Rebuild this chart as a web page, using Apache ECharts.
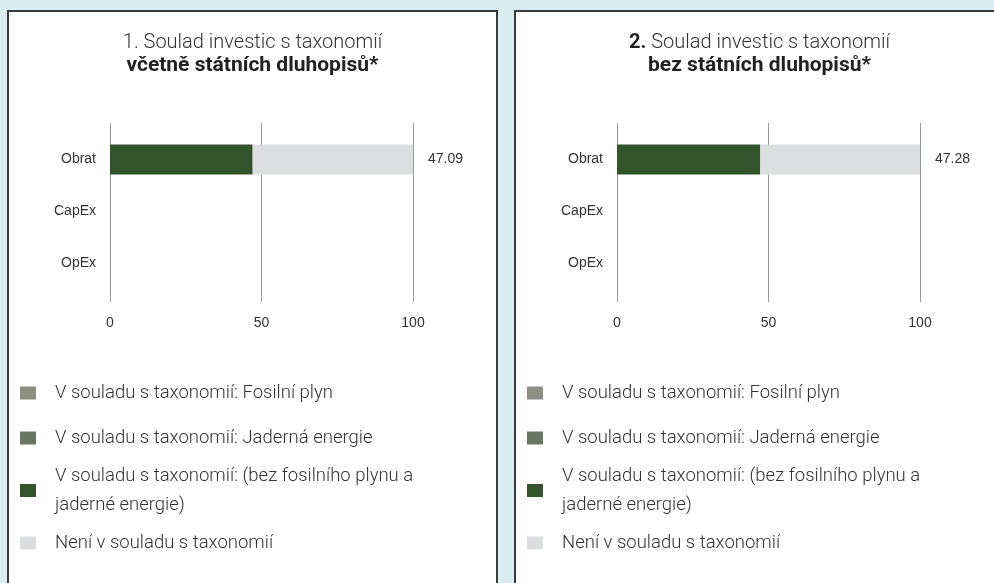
<!DOCTYPE html>
<html>
<head>
<meta charset="utf-8">
<script src="https://cdn.jsdelivr.net/npm/echarts@6/dist/echarts.min.js"></script>
<style>
    html, body {
        margin: 0;
        padding: 0;
        width: 994px;
        height: 583px;
        overflow: hidden;
        background: #daedf3;
    }
    .box {
        position: absolute;
        top: 10px;
        height: 620px;
        border: 2px solid #3a3a3a;
        background: #ffffff;
    }
    #box_1 {
        left: 7px;
        width: 487px;
    }
    #box_2 {
        left: 514px;
        width: 487px;
    }
    .chart {
        width: 100%;
        height: 100%;
    }
</style>
</head>
<body>
    <div class="box" id="box_1"><div class="chart" id="chart_1"></div></div>
    <div class="box" id="box_2"><div class="chart" id="chart_2"></div></div>
<script>
const categories = ['Obrat', 'CapEx', 'OpEx']
const xTicks = [0, 50, 100]
const seriesNames = [
    'V souladu s taxonomií: Fosilní plyn',
    'V souladu s taxonomií: Jaderná energie',
    'V souladu s taxonomií: (bez fosilního plynu a jaderné energie)',
    'Není v souladu s taxonomií'
]
const seriesColors = ['#8d8f80', '#6b7564', '#33542a', '#dcdddf']

// 1. vcetne statnich dluhopisu
const fosil_1 = [0, null, null]
const jaderna_1 = [0, null, null]
const ostatni_1 = [47.09, null, null]
const neni_1 = [52.91, null, null]

// 2. bez statnich dluhopisu
const fosil_2 = [0, null, null]
const jaderna_2 = [0, null, null]
const ostatni_2 = [47.28, null, null]
const neni_2 = [52.72, null, null]

const font = 'Roboto'
const legendCenters = [381, 426, 478.5, 531]

function buildOption(titleText, data) {
    let series = []
    seriesNames.forEach((name, i) => {
        let obj = {
            name: name,
            type: 'bar',
            stack: 'total',
            xAxisIndex: 1,
            yAxisIndex: 1,
            barWidth: 30,
            itemStyle: { color: seriesColors[i] },
            data: data[i]
        }
        if (i === 3) {
            obj.label = {
                show: true,
                position: 'right',
                distance: 15,
                fontFamily: 'Liberation Sans',
                fontSize: 14,
                color: '#333',
                formatter: p => data[2][p.dataIndex].toFixed(2)
            }
        }
        series.push(obj)
    })
    let legends = seriesNames.map((name, i) => {
        let multi = i === 2
        return {
            data: [name],
            orient: 'vertical',
            left: 6,
            top: legendCenters[i] - 5 - (multi ? 29 : 14.5),
            icon: 'rect',
            itemWidth: 16,
            itemHeight: 13,
            selectedMode: false,
            formatter: n => multi ? 'V souladu s taxonomií: (bez fosilního plynu a\njaderné energie)' : n,
            textStyle: {
                fontFamily: font,
                fontWeight: 300,
                fontSize: 18.5,
                color: '#333',
                lineHeight: 29,
                padding: [0, 0, 0, 14]
            }
        }
    })
    return {
        animation: false,
        title: {
            text: titleText,
            left: 'center',
            top: 14,
            textStyle: {
                rich: {
                    a: { fontFamily: font, fontWeight: 300, fontSize: 20, color: '#333', lineHeight: 23 },
                    n: { fontFamily: font, fontWeight: 'bold', fontSize: 20, color: '#222', lineHeight: 23 },
                    b: { fontFamily: font, fontWeight: 'bold', fontSize: 21, color: '#222', lineHeight: 23 }
                }
            }
        },
        legend: legends,
        grid: [
            { left: 101, width: 303, top: 111, height: 179 },
            { left: 101, width: 303, top: 121.5, height: 156 }
        ],
        xAxis: [
            {
                gridIndex: 0,
                type: 'value',
                min: xTicks[0],
                max: xTicks[xTicks.length - 1],
                interval: xTicks[1] - xTicks[0],
                axisLine: { show: false },
                axisTick: { show: false },
                splitLine: { show: true, lineStyle: { color: '#999', width: 1 } },
                axisLabel: { margin: 14, fontFamily: 'Liberation Sans', fontSize: 14, color: '#333' }
            },
            {
                gridIndex: 1,
                type: 'value',
                min: xTicks[0],
                max: xTicks[xTicks.length - 1],
                show: false
            }
        ],
        yAxis: [
            { gridIndex: 0, type: 'value', show: false },
            {
                gridIndex: 1,
                type: 'category',
                inverse: true,
                data: categories,
                axisLine: { show: false },
                axisTick: { show: false },
                splitLine: { show: false },
                axisLabel: { margin: 14, fontFamily: 'Liberation Sans', fontSize: 14, color: '#333' }
            }
        ],
        series: series
    }
}

let myChart_1 = echarts.init(document.getElementById('chart_1'))
let myChart_2 = echarts.init(document.getElementById('chart_2'))
myChart_1.setOption(buildOption(
    '{a|1. Soulad investic s taxonomií}\n{b|včetně státních dluhopisů*}',
    [fosil_1, jaderna_1, ostatni_1, neni_1]
))
myChart_2.setOption(buildOption(
    '{n|2.}{a| Soulad investic s taxonomií}\n{b|bez státních dluhopisů*}',
    [fosil_2, jaderna_2, ostatni_2, neni_2]
))
</script>
</body>
</html>
